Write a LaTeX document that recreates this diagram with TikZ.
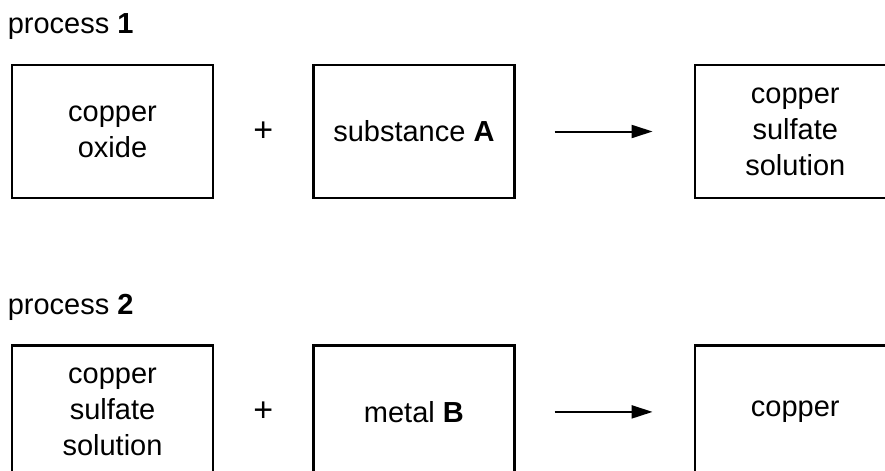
\documentclass[tikz,border=0pt]{standalone}
\usepackage{fontspec}
\setmainfont{Liberation Sans}
\usetikzlibrary{arrows.meta,positioning}

\begin{document}
\begin{tikzpicture}[->,>={Triangle[length=10.5pt,width=6.5pt]},line width=1pt,
          node distance=49pt,
          box node/.style={rectangle,draw,line width=1.2pt,minimum width=100.5pt,minimum height=66.5pt,
            align=center,font=\fontsize{14.5}{18}\selectfont},
          plain node/.style={inner sep=0pt,font=\fontsize{14.5}{18}\selectfont}]

        \useasboundingbox (0,0) rectangle (442.5pt,-235.5pt);
        \clip (0,0) rectangle (442.5pt,-235.5pt);

        % process 1
        \node[box node] (1) at (56.25pt,-65.75pt) {copper\\oxide};
        \node[box node] (2) [right=49pt of 1] {substance \textbf{A}};
        \node[box node] (3) [right=89pt of 2] {copper\\sulfate\\solution};
        \node[plain node,anchor=base west] (t1) at ([xshift=-2pt,yshift=15pt]1.north west) {process \textbf{1}};

        % process 2
        \node[box node] (4) [below=72.5pt of 1] {copper\\sulfate\\solution};
        \node[box node] (5) [right=49pt of 4] {metal \textbf{B}};
        \node[box node] (6) [right=89pt of 5] {copper};
        \node[plain node,anchor=base west] (t2) at ([xshift=-2pt,yshift=15pt]4.north west) {process \textbf{2}};

        \path[every node/.style={plain node,font=\fontsize{17}{18}\selectfont}]
        (1) -- node (p1) {+} (2)
        (4) -- node (p2) {+} (5);

        \path
        (2) edge[shorten <=19.5pt,shorten >=20.5pt] (3)
        (5) edge[shorten <=19.5pt,shorten >=20.5pt] (6);
      \end{tikzpicture}
\end{document}
